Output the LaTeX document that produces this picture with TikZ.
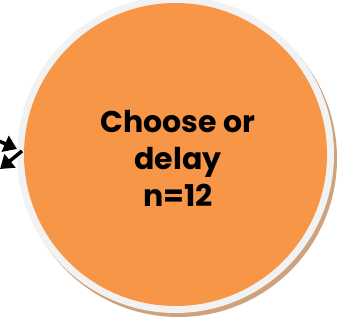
\documentclass[tikz,border=0pt]{standalone}
\usepackage{fontspec}
\setmainfont{Poppins}
\usetikzlibrary{arrows.meta}
\definecolor{orangefill}{HTML}{F79646}
\definecolor{ringgray}{HTML}{F2F2F2}
\definecolor{shadowtan}{HTML}{CFA27E}
\tikzset{
  ringcircle/.style={circle, fill=ringgray, minimum size=317pt, inner sep=0pt},
  shadowcircle/.style={circle, fill=shadowtan, minimum size=317pt, inner sep=0pt},
  corecircle/.style={circle, fill=orangefill, minimum size=303pt, inner sep=0pt},
  labeltext/.style={align=center, inner sep=0pt,
    font=\bfseries\fontsize{30}{37}\selectfont},
  linkarrow/.style={line width=3.5pt, -{Triangle[length=13pt,width=17pt]}}
}
\begin{document}
\begin{tikzpicture}[x=1pt,y=-1pt]
\useasboundingbox (0,0) rectangle (343,327);
\clip (0,0) rectangle (343,327);
\node[shadowcircle] (shadow) at (178.5,158.5) {};
\node[ringcircle] (ring) at (175.5,154.5) {};
\node[corecircle] (core) at (175.5,154.5) {};
\node[labeltext] (label) at (178,158) {Choose or\\delay\\n=12};
\coordinate (inA) at (-10,137);
\coordinate (inB) at (17,149);
\coordinate (outA) at (22,151);
\coordinate (outB) at (0,169);
\draw[linkarrow] (inA) -- (inB);
\draw[linkarrow] (outA) -- (outB);
\end{tikzpicture}
\end{document}
